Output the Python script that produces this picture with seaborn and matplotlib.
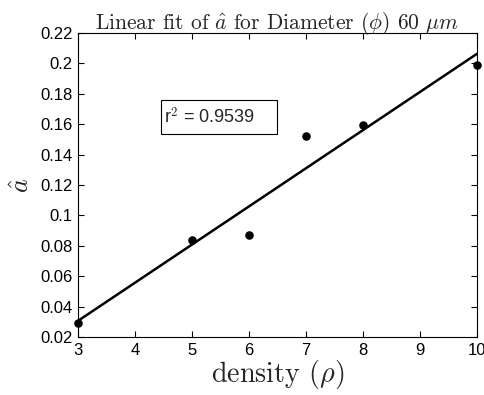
import numpy as np
import pandas as pd
import matplotlib
matplotlib.use("Agg")
import matplotlib.pyplot as plt
from matplotlib.patches import Rectangle
import seaborn as sns

# measured a-hat values at each density
density = [3, 5, 6, 7, 8, 10]
a_hat = [0.0292, 0.0838, 0.0871, 0.1522, 0.1595, 0.1990]
r2_label = "r$^2$ = 0.9539"
x_ticks = [3, 4, 5, 6, 7, 8, 9, 10]
y_ticks = [0.02, 0.04, 0.06, 0.08, 0.10, 0.12, 0.14, 0.16, 0.18, 0.20, 0.22]
y_tick_labels = ["0.02", "0.04", "0.06", "0.08", "0.1", "0.12", "0.14",
                 "0.16", "0.18", "0.2", "0.22"]

sns.set_theme(style="ticks")
plt.rcParams["font.family"] = ["Liberation Sans", "DejaVu Sans"]
plt.rcParams["mathtext.fontset"] = "cm"

df = pd.DataFrame({"density": density, "a_hat": a_hat})
slope, intercept = np.polyfit(df["density"], df["a_hat"], 1)
fit = pd.DataFrame({"density": [min(density), max(density)]})
fit["a_hat"] = slope * fit["density"] + intercept

fig = plt.figure(figsize=(4.85, 3.95), dpi=100)
ax = fig.add_axes([0.1608, 0.1468, 0.8227, 0.7697])

sns.lineplot(data=fit, x="density", y="a_hat", ax=ax, color="black",
             linewidth=1.8, zorder=2)
sns.scatterplot(data=df, x="density", y="a_hat", ax=ax, color="black",
                s=38, edgecolor="black", linewidth=0, zorder=3, clip_on=False)

ax.set_xlim(3, 10)
ax.set_ylim(0.02, 0.22)
ax.set_xticks(x_ticks)
ax.set_yticks(y_ticks)
ax.set_yticklabels(y_tick_labels)
ax.tick_params(direction="in", top=True, right=True, length=4, width=0.8,
               labelsize=12, colors="black", pad=4)
for s in ax.spines.values():
    s.set_linewidth(0.8)
    s.set_color("black")

ax.set_xlabel(r"density $(\rho)$", fontname="cmr10", fontsize=20.3, labelpad=0)
ax.set_ylabel(r"$\hat{a}$", fontsize=19, labelpad=4)
ax.set_title(r"Linear fit of $\hat{a}$ for Diameter $(\phi)$ 60 $\mu m$",
             fontname="cmr10", fontsize=15.5, pad=3)

# r^2 annotation box
ax.add_patch(Rectangle((0.208, 0.668), 0.291, 0.112, transform=ax.transAxes,
                       facecolor="white", edgecolor="black", linewidth=0.8,
                       zorder=4))
ax.text(0.216, 0.724, r2_label, transform=ax.transAxes, fontsize=13,
        va="center", ha="left", zorder=5)

fig.savefig("out.png", dpi=100, facecolor="white")
